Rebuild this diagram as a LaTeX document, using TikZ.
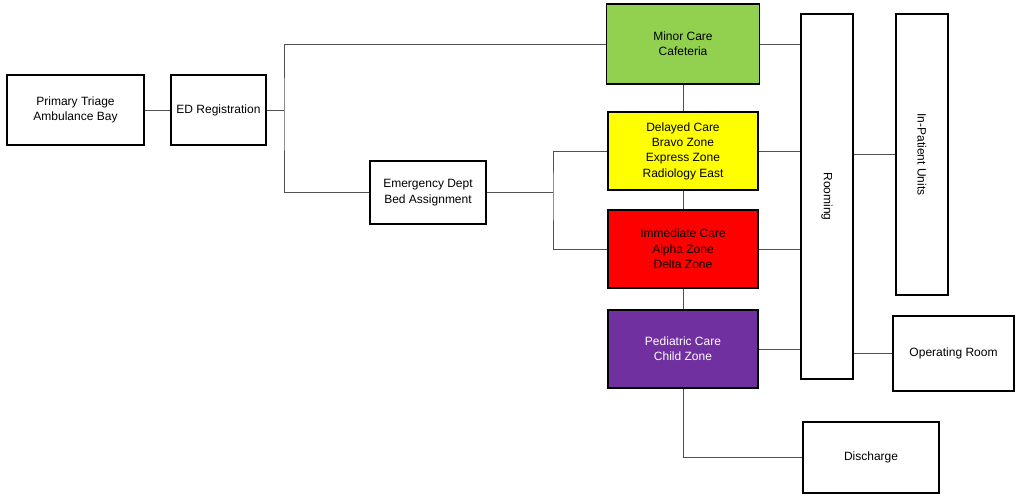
\documentclass[tikz,border=0pt]{standalone}
\usepackage{fontspec}
\setmainfont{Liberation Sans}
\definecolor{minorgreen}{HTML}{92D050}
\definecolor{delayyellow}{HTML}{FFFF00}
\definecolor{immedred}{HTML}{FF0000}
\definecolor{pedpurple}{HTML}{7030A0}
\definecolor{linkgray}{HTML}{505050}
\tikzset{
  box/.style={draw=black, line width=1.3pt, rectangle, align=center, inner sep=0pt,
              font=\fontsize{9}{11.5}\selectfont, text=black},
  link/.style={draw=linkgray, line width=0.7pt},
}
\begin{document}
\begin{tikzpicture}[x=0.75pt,y=-0.75pt]
  \useasboundingbox (0,0) rectangle (1016,497);

  % entry path
  \node[box, minimum width=102.75pt, minimum height=52.5pt] (triage) at (75.5,110) {Primary Triage\\Ambulance Bay};
  \node[box, minimum width=71.25pt, minimum height=52.5pt] (reg) at (218.5,110) {ED Registration};
  \node[box, minimum width=87pt, minimum height=47.25pt] (bed) at (428,192.5) {Emergency Dept\\Bed Assignment};

  % care zones
  \node[box, fill=minorgreen, minimum width=114.75pt, minimum height=60pt] (minor) at (683,44) {Minor Care\\Cafeteria};
  \node[box, fill=delayyellow, minimum width=112.5pt, minimum height=58.5pt] (delayed) at (683,151) {Delayed Care\\Bravo Zone\\Express Zone\\Radiology East};
  \node[box, fill=immedred, minimum width=112.5pt, minimum height=58.5pt] (immed) at (683,249) {Immediate Care\\Alpha Zone\\Delta Zone};
  \node[box, fill=pedpurple, text=white, minimum width=112.5pt, minimum height=58.5pt] (ped) at (683,349) {Pediatric Care\\Child Zone};

  % downstream
  \node[box, minimum width=39pt, minimum height=273.75pt] (room) at (827,196.5) {};
  \node[font=\fontsize{9}{11.5}\selectfont, rotate=-90] (roomlbl) at (room.center) {Rooming};
  \node[box, minimum width=39pt, minimum height=210.75pt] (inpat) at (922,154.5) {};
  \node[font=\fontsize{9}{11.5}\selectfont, rotate=-90] (inpatlbl) at (inpat.center) {In-Patient Units};
  \node[box, minimum width=90.75pt, minimum height=56.25pt] (orm) at (953.5,353.5) {Operating Room};
  \node[box, minimum width=102pt, minimum height=53.25pt] (dis) at (871,457.5) {Discharge};

  % junction points
  \coordinate (j1) at (284,110);
  \coordinate (j2) at (553,192.5);

  % connectors
  \draw[link] (triage.east) -- (reg.west);
  \draw[link] (reg.east) -- (j1);
  \draw[link] (minor.west) -| (j1) |- (bed.west);
  \draw[link] (bed.east) -- (j2);
  \draw[link] (delayed.west) -| (j2) |- (immed.west);

  \draw[link] (minor.south) -- (delayed.north);
  \draw[link] (delayed.south) -- (immed.north);
  \draw[link] (immed.south) -- (ped.north);
  \draw[link] (ped.south) |- (dis.west);

  \draw[link] (minor.east) -- (minor.east -| room.west);
  \draw[link] (delayed.east) -- (delayed.east -| room.west);
  \draw[link] (immed.east) -- (immed.east -| room.west);
  \draw[link] (ped.east) -- (ped.east -| room.west);

  \draw[link] (room.east |- inpat.west) -- (inpat.west);
  \draw[link] (room.east |- orm.west) -- (orm.west);
\end{tikzpicture}
\end{document}
